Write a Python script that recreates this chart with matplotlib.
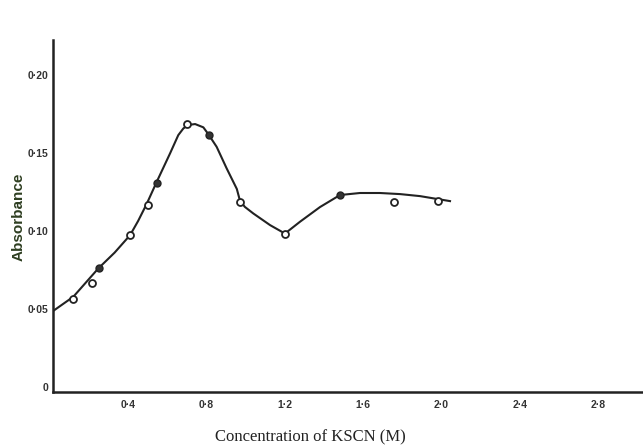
import matplotlib
matplotlib.use("Agg")
import matplotlib.pyplot as plt

# measured points (KSCN concentration in M, absorbance)
open_x = [0.119, 0.212, 0.408, 0.502, 0.697, 0.971, 1.199, 1.757, 1.981]
open_y = [0.0564, 0.0665, 0.0972, 0.1165, 0.1686, 0.1184, 0.0981, 0.1186, 0.1192]
filled_x = [0.251, 0.547, 0.813, 1.479]
filled_y = [0.0765, 0.131, 0.1617, 0.1229]

# hand-drawn curve
curve_x = [0.015, 0.119, 0.247, 0.33, 0.409, 0.45, 0.494, 0.545, 0.613, 0.655, 0.681,
           0.705, 0.741, 0.783, 0.808, 0.851, 0.902, 0.954, 0.970, 0.995, 1.038, 1.124,
           1.200, 1.277, 1.379, 1.481, 1.583, 1.685, 1.788, 1.890, 2.043]
curve_y = [0.0487, 0.0579, 0.0761, 0.0862, 0.0974, 0.1065, 0.1175, 0.1316, 0.1498, 0.1615, 0.1658,
           0.168, 0.1686, 0.1665, 0.1622, 0.154, 0.1402, 0.127, 0.1195, 0.1155, 0.1113, 0.1038,
           0.0984, 0.106, 0.1154, 0.1231, 0.1244, 0.1244, 0.1237, 0.1224, 0.1192]

xticks = [0.4, 0.8, 1.2, 1.6, 2.0, 2.4, 2.8]
xtick_labels = ["0·4", "0·8", "1·2", "1·6", "2·0", "2·4", "2·8"]
yticks = [0, 0.05, 0.10, 0.15, 0.20]
ytick_labels = ["0", "0·05", "0·10", "0·15", "0·20"]

fig = plt.figure(figsize=(6.43, 4.46), dpi=100)
ax = fig.add_axes([0.0824, 0.121, 0.918, 0.789])

ax.plot(curve_x, curve_y, color="#222222", lw=1.5, zorder=2, solid_joinstyle="round")
ax.plot(open_x, open_y, "o", ms=5, mfc="white", mec="#222222", mew=1.3, zorder=3)
ax.plot(filled_x, filled_y, "o", ms=5, mfc="#333333", mec="#222222", mew=1.0, zorder=3)

ax.set_xlim(0.015, 3.03)
ax.set_ylim(-0.0032, 0.2224)

ax.set_xticks(xticks)
ax.set_xticklabels(xtick_labels, fontsize=7.5, family="Liberation Sans", weight="bold",
                   color="#333333")
ax.set_yticks(yticks)
ax.set_yticklabels(ytick_labels, fontsize=7.5, family="Liberation Sans", weight="bold",
                   color="#333333")
ax.tick_params(axis="x", length=0, pad=6)
ax.tick_params(axis="y", length=0, pad=3)

for s in ["top", "right"]:
    ax.spines[s].set_visible(False)
for s in ["left", "bottom"]:
    ax.spines[s].set_linewidth(1.8)
    ax.spines[s].set_color("#222222")

ax.set_ylabel("Absorbance", fontsize=11, family="Liberation Sans", weight="bold",
              color="#2f3f22")
ax.yaxis.set_label_coords(-0.047, 0.497)
fig.text(310 / 643, 1 - 437 / 446, "Concentration of KSCN (M)", fontsize=12,
         family="Liberation Serif", ha="center", va="center", color="#222222")

fig.savefig("out.png", dpi=100)
